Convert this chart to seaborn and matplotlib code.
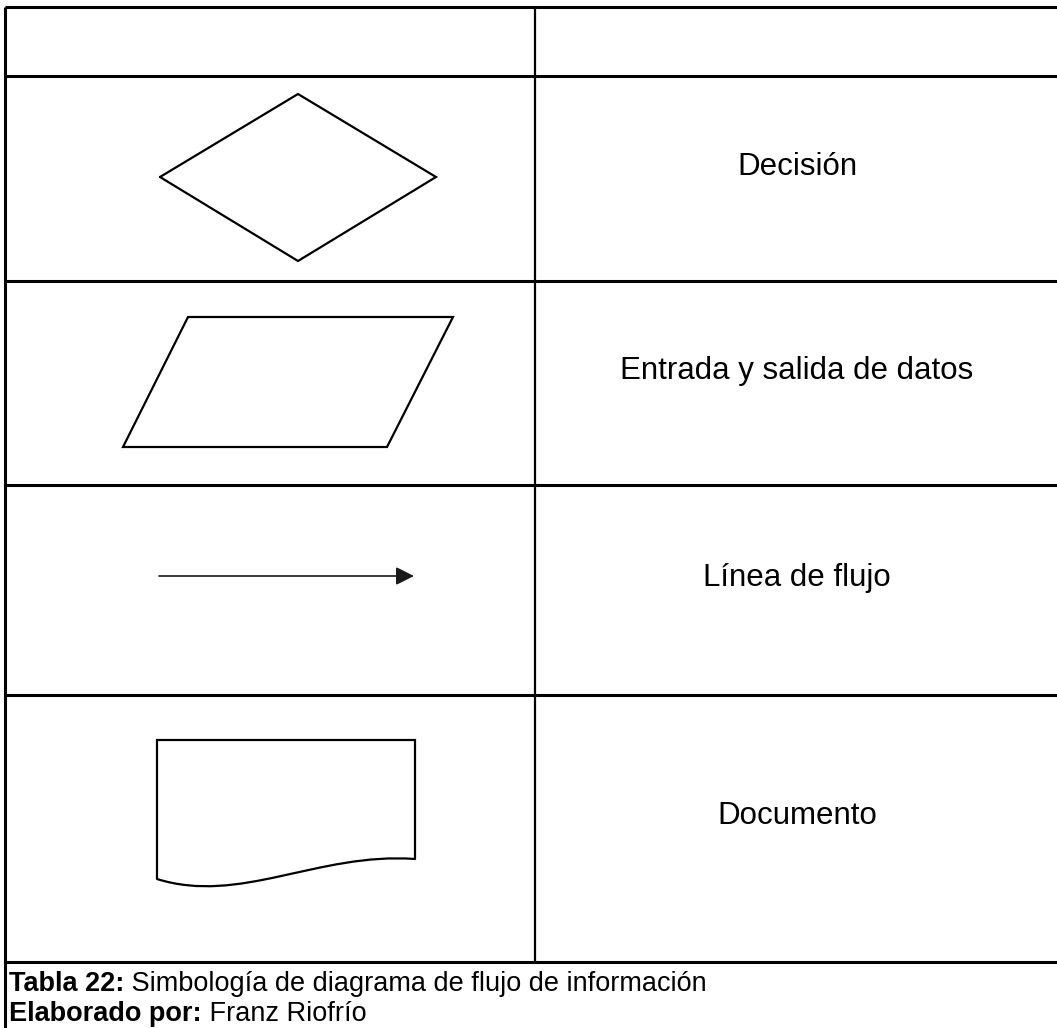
import numpy as np
import pandas as pd
import matplotlib.pyplot as plt
import seaborn as sns
from matplotlib.path import Path
from matplotlib.patches import PathPatch

sns.set_theme(style="white")
plt.rcParams['font.family'] = ['Liberation Sans', 'DejaVu Sans']

W, H = 1057, 1028

# table grid (pixel units, y grows downwards)
col_x = [5, 535]
row_y = [7, 76, 281, 485, 695, 962]
labels = ["", "Decisión", "Entrada y salida de datos", "Línea de flujo", "Documento"]
label_base = [0, 175, 379, 586, 824]

# symbols
diamond_x = [160, 298, 436, 298, 160]
diamond_y = [177, 94, 177, 261, 177]
para_x = [188, 453, 387, 123, 188]
para_y = [317, 317, 447, 447, 317]
arrow_x = [159, 414]
arrow_y = [576, 576]
doc_x = [157, 157, 415, 415]
doc_y = [879, 740, 740, 859]
wave_x = [157, 240, 318, 415]
wave_y = [879, 905, 852, 859]

cap_bold = ["Tabla 22:", "Elaborado por:"]
cap_text = [" Simbología de diagrama de flujo de información", " Franz Riofrío"]
cap_base = [991, 1021]

fig = plt.figure(figsize=(W / 100, H / 100), dpi=100)
ax = fig.add_axes([0, 0, 1, 1])
ax.set_xlim(0, W)
ax.set_ylim(H, 0)
ax.axis('off')

# table lines
ax.hlines(row_y, col_x[0], W, color='black', lw=2.2)
ax.vlines(col_x[0], row_y[0], H, color='black', lw=2.2)
ax.vlines(col_x[1], row_y[0], row_y[-1], color='black', lw=1.6)

# shapes
for xs, ys in [(diamond_x, diamond_y), (para_x, para_y), (doc_x, doc_y)]:
    sns.lineplot(x=xs, y=ys, sort=False, estimator=None, color='black',
                 lw=1.6, solid_joinstyle='miter', ax=ax)

wave = Path(list(zip(wave_x, wave_y)),
            [Path.MOVETO, Path.CURVE4, Path.CURVE4, Path.CURVE4])
ax.add_patch(PathPatch(wave, fc='none', ec='black', lw=1.6))

ax.annotate('', xy=(arrow_x[1], arrow_y[1]), xytext=(arrow_x[0], arrow_y[0]),
            arrowprops=dict(arrowstyle='-|>,head_length=1.1,head_width=0.55',
                            color='#1a1a1a', lw=1.2, shrinkA=0, shrinkB=0,
                            mutation_scale=10))

# labels
cx = (col_x[1] + W) / 2 + 1
for lab, y in zip(labels, label_base):
    if lab:
        ax.text(cx, y, lab, ha='center', va='baseline', fontsize=22.5,
                color='black')

# caption
for b, t, y in zip(cap_bold, cap_text, cap_base):
    tb = ax.text(9, y, b, fontsize=19.5, fontweight='bold', ha='left',
                 va='baseline', color='black')
    ax.annotate(t, xy=(1, 0), xycoords=tb, ha='left', va='bottom',
                fontsize=19.5, color='black')

fig.savefig('out.png', dpi=100)
